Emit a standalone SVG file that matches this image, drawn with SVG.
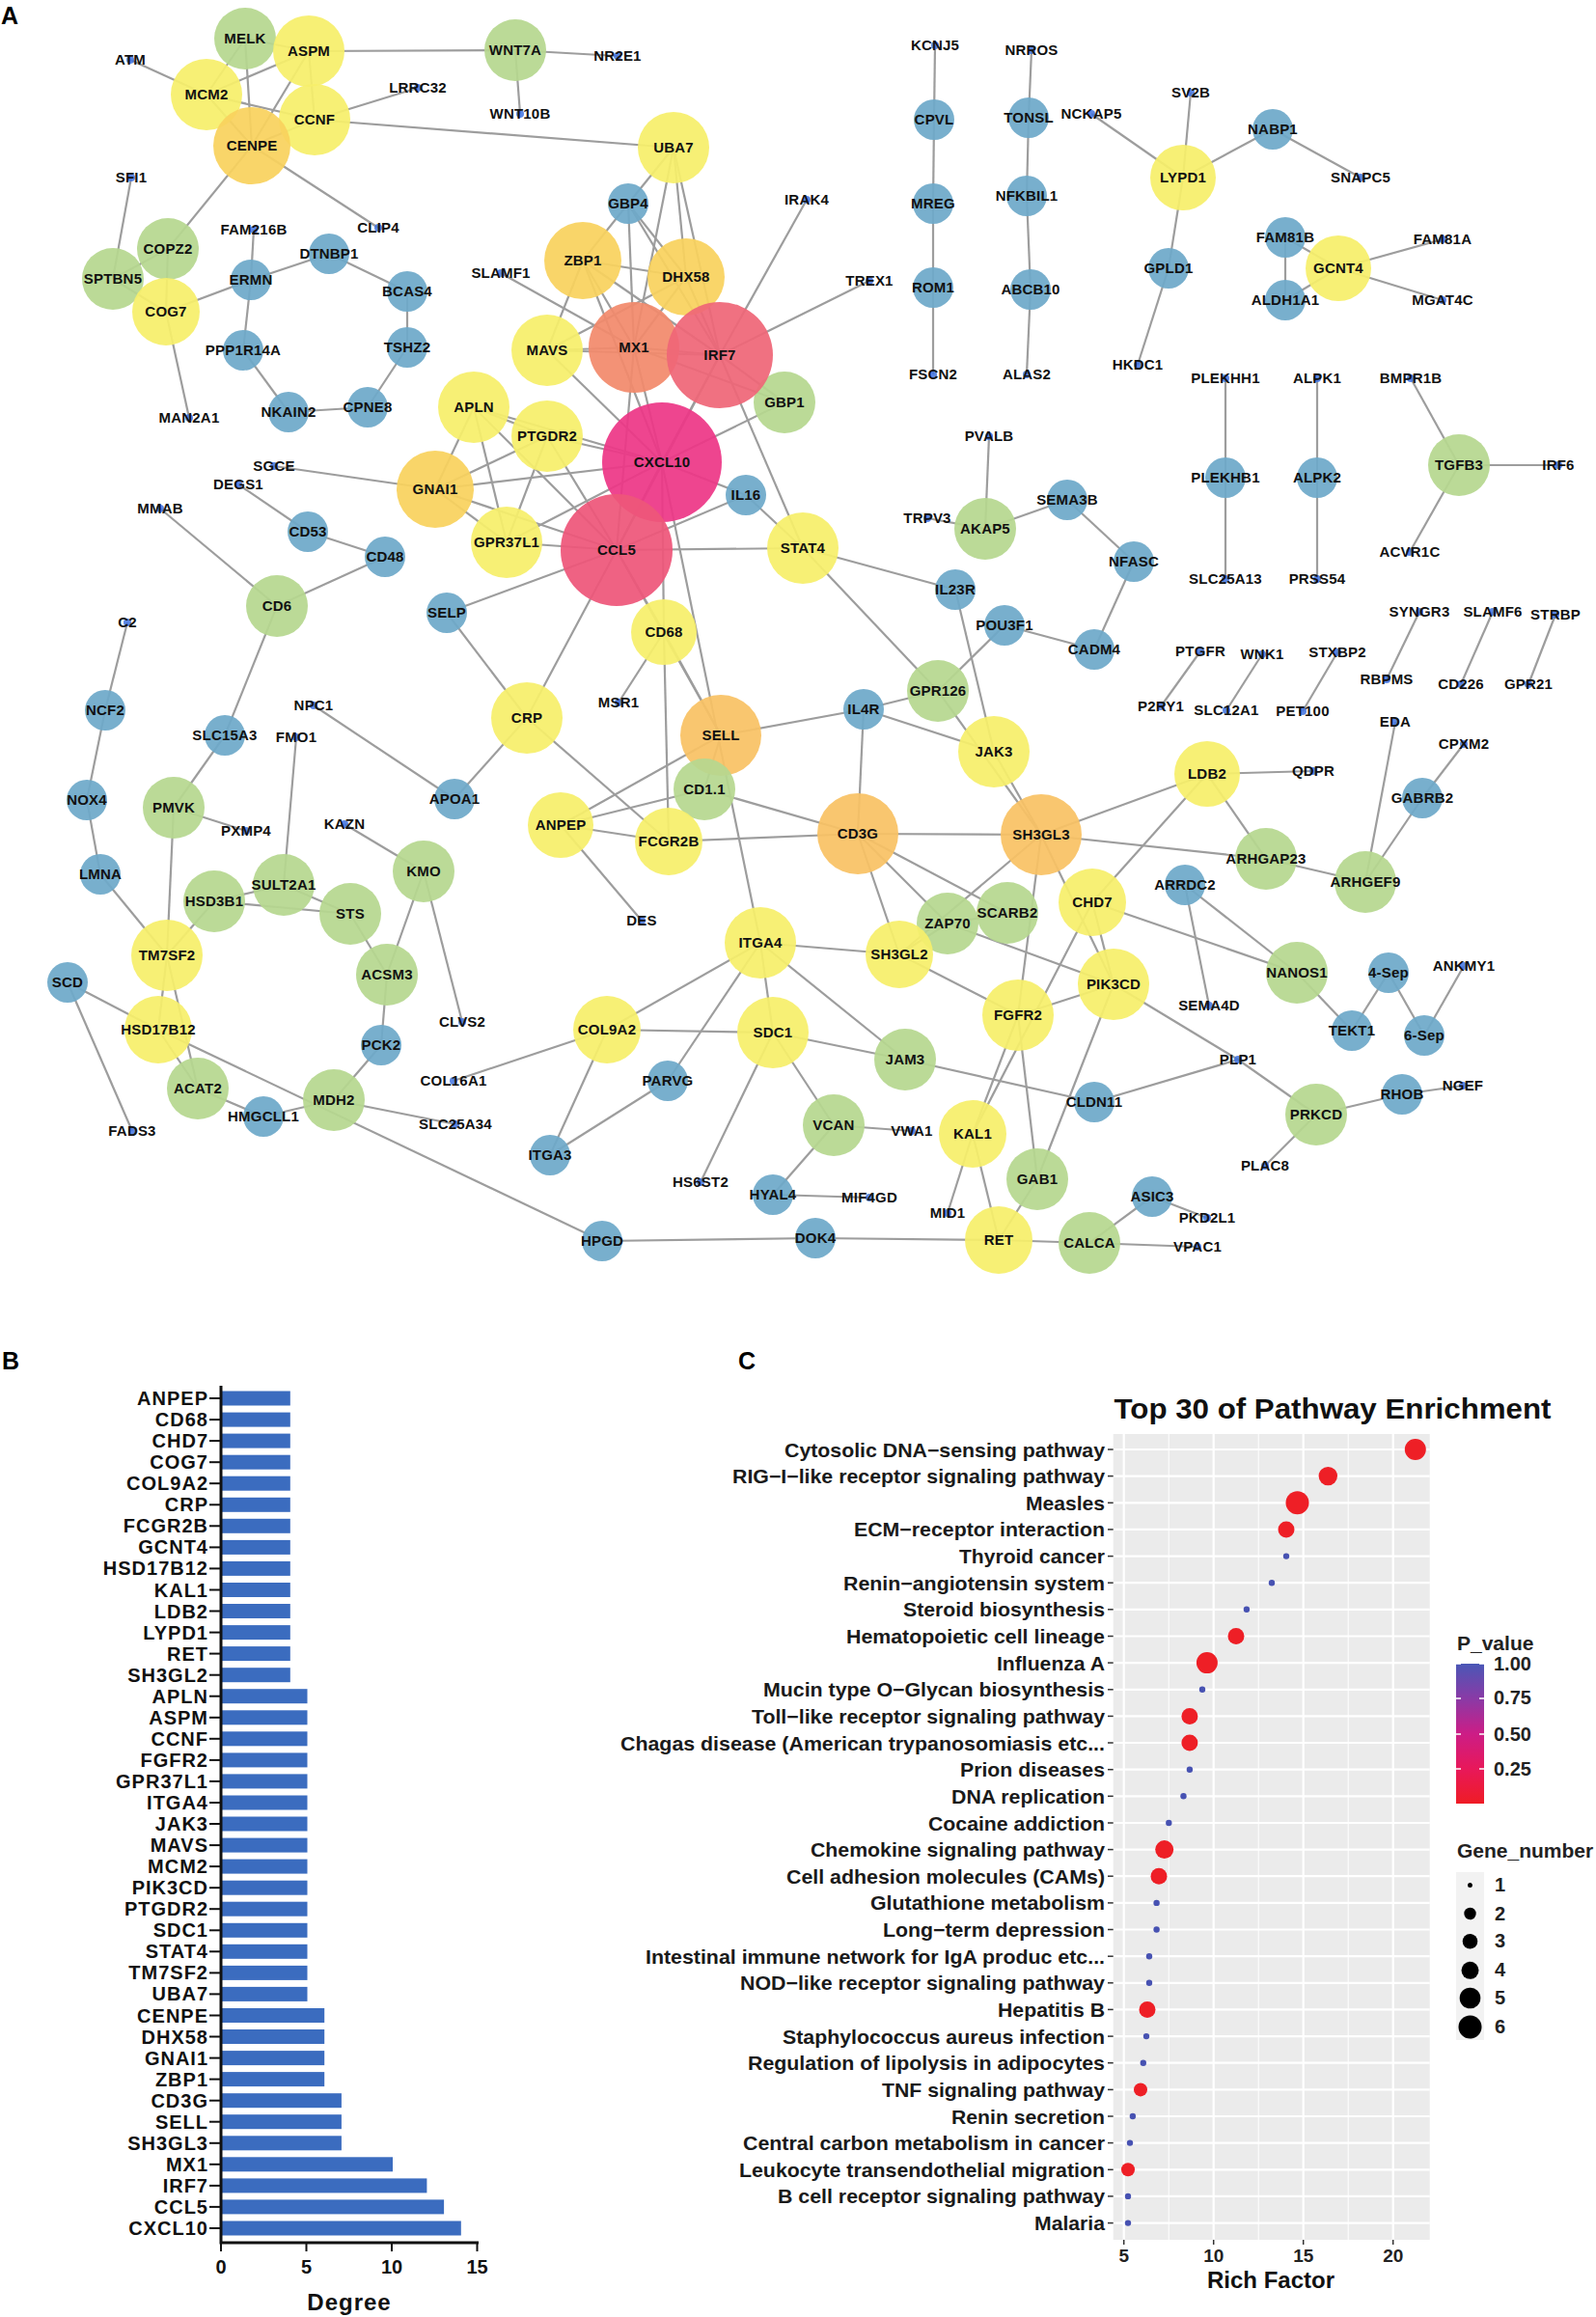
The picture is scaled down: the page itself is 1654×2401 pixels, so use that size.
<svg xmlns="http://www.w3.org/2000/svg" width="1654" height="2401" viewBox="0 0 1654 2401">
<defs>
<style>
.e line{stroke:#9d9d9d;stroke-width:2.2}
.b{fill:#6ea9c9;fill-opacity:.93}
.g{fill:#b6d78f;fill-opacity:.93}
.y{fill:#f6ef6b;fill-opacity:.93}
.gd{fill:#f9d25e;fill-opacity:.93}
.or{fill:#f9c264;fill-opacity:.93}
.d{fill:#3f72e0;fill-opacity:.85}
.t{font-family:"Liberation Sans",Arial,sans-serif;font-weight:bold;font-size:15px;text-anchor:middle;fill:#111;letter-spacing:.2px}
.pl{font-family:"Liberation Sans",Arial,sans-serif;font-weight:bold;font-size:25px;fill:#000}
.bl{font-family:"Liberation Sans",Arial,sans-serif;font-weight:bold;font-size:20px;text-anchor:end;fill:#111;letter-spacing:1px}
.bar rect{fill:#3b6cbf}
.ax{stroke:#111;stroke-width:3;fill:none}
.tk line{stroke:#111;stroke-width:2}
.cl{font-family:"Liberation Sans",Arial,sans-serif;font-weight:bold;font-size:21px;text-anchor:end;fill:#1a1a1a}
.cn{font-family:"Liberation Sans",Arial,sans-serif;font-weight:bold;font-size:20px;fill:#222}
.ct{font-family:"Liberation Sans",Arial,sans-serif;font-weight:bold;font-size:21px;fill:#222}
.red{fill:#ee1f26}
.blu{fill:#4752b2}
</style>
<linearGradient id="pg" x1="0" y1="0" x2="0" y2="1">
<stop offset="0" stop-color="#4a57b6"/>
<stop offset="0.25" stop-color="#8a3aa6"/>
<stop offset="0.5" stop-color="#cc1d86"/>
<stop offset="0.75" stop-color="#e8185a"/>
<stop offset="1" stop-color="#ef1c25"/>
</linearGradient>
</defs>
<rect width="1654" height="2401" fill="#fff"/>
<text class="pl" x="1" y="25">A</text>
<text class="pl" x="2" y="1419">B</text>
<text class="pl" x="765" y="1419">C</text>

<g id="edges" class="e">
<line x1="135" y1="62" x2="214" y2="98"/>
<line x1="254" y1="40" x2="214" y2="98"/>
<line x1="254" y1="40" x2="261" y2="151"/>
<line x1="254" y1="40" x2="320" y2="53"/>
<line x1="320" y1="53" x2="214" y2="98"/>
<line x1="320" y1="53" x2="261" y2="151"/>
<line x1="320" y1="53" x2="326" y2="124"/>
<line x1="320" y1="53" x2="534" y2="52"/>
<line x1="214" y1="98" x2="261" y2="151"/>
<line x1="214" y1="98" x2="326" y2="124"/>
<line x1="261" y1="151" x2="326" y2="124"/>
<line x1="261" y1="151" x2="174" y2="258"/>
<line x1="261" y1="151" x2="392" y2="236"/>
<line x1="326" y1="124" x2="433" y2="91"/>
<line x1="326" y1="124" x2="698" y2="153"/>
<line x1="534" y1="52" x2="539" y2="118"/>
<line x1="534" y1="52" x2="640" y2="58"/>
<line x1="136" y1="184" x2="117" y2="289"/>
<line x1="117" y1="289" x2="174" y2="258"/>
<line x1="117" y1="289" x2="172" y2="323"/>
<line x1="174" y1="258" x2="172" y2="323"/>
<line x1="172" y1="323" x2="260" y2="290"/>
<line x1="172" y1="323" x2="196" y2="433"/>
<line x1="260" y1="290" x2="263" y2="238"/>
<line x1="260" y1="290" x2="341" y2="263"/>
<line x1="260" y1="290" x2="252" y2="363"/>
<line x1="341" y1="263" x2="422" y2="302"/>
<line x1="422" y1="302" x2="422" y2="360"/>
<line x1="422" y1="360" x2="381" y2="422"/>
<line x1="381" y1="422" x2="299" y2="427"/>
<line x1="299" y1="427" x2="252" y2="363"/>
<line x1="519" y1="283" x2="657" y2="360"/>
<line x1="698" y1="153" x2="651" y2="211"/>
<line x1="698" y1="153" x2="711" y2="287"/>
<line x1="698" y1="153" x2="746" y2="368"/>
<line x1="698" y1="153" x2="657" y2="360"/>
<line x1="651" y1="211" x2="604" y2="270"/>
<line x1="651" y1="211" x2="657" y2="360"/>
<line x1="651" y1="211" x2="711" y2="287"/>
<line x1="651" y1="211" x2="746" y2="368"/>
<line x1="604" y1="270" x2="711" y2="287"/>
<line x1="604" y1="270" x2="567" y2="363"/>
<line x1="604" y1="270" x2="657" y2="360"/>
<line x1="604" y1="270" x2="746" y2="368"/>
<line x1="604" y1="270" x2="686" y2="479"/>
<line x1="711" y1="287" x2="657" y2="360"/>
<line x1="711" y1="287" x2="746" y2="368"/>
<line x1="711" y1="287" x2="567" y2="363"/>
<line x1="836" y1="207" x2="746" y2="368"/>
<line x1="901" y1="291" x2="746" y2="368"/>
<line x1="567" y1="363" x2="657" y2="360"/>
<line x1="567" y1="363" x2="686" y2="479"/>
<line x1="567" y1="363" x2="746" y2="368"/>
<line x1="657" y1="360" x2="746" y2="368"/>
<line x1="657" y1="360" x2="686" y2="479"/>
<line x1="657" y1="360" x2="639" y2="570"/>
<line x1="657" y1="360" x2="813" y2="417"/>
<line x1="746" y1="368" x2="813" y2="417"/>
<line x1="746" y1="368" x2="686" y2="479"/>
<line x1="746" y1="368" x2="639" y2="570"/>
<line x1="746" y1="368" x2="832" y2="568"/>
<line x1="686" y1="479" x2="813" y2="417"/>
<line x1="686" y1="479" x2="639" y2="570"/>
<line x1="686" y1="479" x2="773" y2="513"/>
<line x1="686" y1="479" x2="788" y2="977"/>
<line x1="686" y1="479" x2="688" y2="655"/>
<line x1="686" y1="479" x2="491" y2="422"/>
<line x1="686" y1="479" x2="567" y2="452"/>
<line x1="686" y1="479" x2="451" y2="507"/>
<line x1="686" y1="479" x2="525" y2="562"/>
<line x1="639" y1="570" x2="491" y2="422"/>
<line x1="639" y1="570" x2="567" y2="452"/>
<line x1="639" y1="570" x2="451" y2="507"/>
<line x1="639" y1="570" x2="525" y2="562"/>
<line x1="639" y1="570" x2="463" y2="635"/>
<line x1="639" y1="570" x2="546" y2="744"/>
<line x1="639" y1="570" x2="832" y2="568"/>
<line x1="639" y1="570" x2="773" y2="513"/>
<line x1="639" y1="570" x2="688" y2="655"/>
<line x1="639" y1="570" x2="747" y2="762"/>
<line x1="491" y1="422" x2="451" y2="507"/>
<line x1="491" y1="422" x2="567" y2="452"/>
<line x1="491" y1="422" x2="525" y2="562"/>
<line x1="567" y1="452" x2="451" y2="507"/>
<line x1="567" y1="452" x2="525" y2="562"/>
<line x1="451" y1="507" x2="525" y2="562"/>
<line x1="451" y1="507" x2="284" y2="483"/>
<line x1="773" y1="513" x2="832" y2="568"/>
<line x1="832" y1="568" x2="990" y2="611"/>
<line x1="832" y1="568" x2="972" y2="716"/>
<line x1="688" y1="655" x2="641" y2="728"/>
<line x1="688" y1="655" x2="747" y2="762"/>
<line x1="688" y1="655" x2="693" y2="872"/>
<line x1="463" y1="635" x2="546" y2="744"/>
<line x1="546" y1="744" x2="471" y2="828"/>
<line x1="546" y1="744" x2="693" y2="872"/>
<line x1="747" y1="762" x2="730" y2="818"/>
<line x1="747" y1="762" x2="895" y2="735"/>
<line x1="747" y1="762" x2="581" y2="855"/>
<line x1="730" y1="818" x2="581" y2="855"/>
<line x1="730" y1="818" x2="889" y2="864"/>
<line x1="581" y1="855" x2="693" y2="872"/>
<line x1="581" y1="855" x2="665" y2="954"/>
<line x1="693" y1="872" x2="889" y2="864"/>
<line x1="895" y1="735" x2="972" y2="716"/>
<line x1="895" y1="735" x2="1030" y2="779"/>
<line x1="895" y1="735" x2="889" y2="864"/>
<line x1="990" y1="611" x2="1030" y2="779"/>
<line x1="1041" y1="648" x2="972" y2="716"/>
<line x1="1041" y1="648" x2="1134" y2="673"/>
<line x1="972" y1="716" x2="1079" y2="865"/>
<line x1="1030" y1="779" x2="1079" y2="865"/>
<line x1="889" y1="864" x2="1079" y2="865"/>
<line x1="889" y1="864" x2="982" y2="957"/>
<line x1="889" y1="864" x2="932" y2="989"/>
<line x1="889" y1="864" x2="1044" y2="946"/>
<line x1="1079" y1="865" x2="1251" y2="802"/>
<line x1="1079" y1="865" x2="1312" y2="890"/>
<line x1="1079" y1="865" x2="1055" y2="1052"/>
<line x1="1079" y1="865" x2="1154" y2="1020"/>
<line x1="1079" y1="865" x2="932" y2="989"/>
<line x1="982" y1="957" x2="1044" y2="946"/>
<line x1="982" y1="957" x2="932" y2="989"/>
<line x1="982" y1="957" x2="1154" y2="1020"/>
<line x1="1251" y1="802" x2="1361" y2="799"/>
<line x1="1251" y1="802" x2="1312" y2="890"/>
<line x1="1251" y1="802" x2="1132" y2="935"/>
<line x1="1312" y1="890" x2="1415" y2="914"/>
<line x1="1415" y1="914" x2="1446" y2="748"/>
<line x1="1415" y1="914" x2="1474" y2="827"/>
<line x1="1474" y1="827" x2="1517" y2="771"/>
<line x1="1132" y1="935" x2="1344" y2="1008"/>
<line x1="1132" y1="935" x2="1154" y2="1020"/>
<line x1="1132" y1="935" x2="1008" y2="1175"/>
<line x1="1228" y1="917" x2="1344" y2="1008"/>
<line x1="1228" y1="917" x2="1253" y2="1042"/>
<line x1="1154" y1="1020" x2="1283" y2="1098"/>
<line x1="1154" y1="1020" x2="1055" y2="1052"/>
<line x1="1154" y1="1020" x2="1075" y2="1222"/>
<line x1="1283" y1="1098" x2="1134" y2="1142"/>
<line x1="1283" y1="1098" x2="1364" y2="1155"/>
<line x1="1364" y1="1155" x2="1453" y2="1134"/>
<line x1="1453" y1="1134" x2="1516" y2="1125"/>
<line x1="1364" y1="1155" x2="1311" y2="1208"/>
<line x1="1344" y1="1008" x2="1401" y2="1068"/>
<line x1="1401" y1="1068" x2="1439" y2="1008"/>
<line x1="1439" y1="1008" x2="1476" y2="1073"/>
<line x1="1476" y1="1073" x2="1517" y2="1001"/>
<line x1="1134" y1="1142" x2="938" y2="1098"/>
<line x1="1055" y1="1052" x2="932" y2="989"/>
<line x1="1055" y1="1052" x2="1008" y2="1175"/>
<line x1="1055" y1="1052" x2="1075" y2="1222"/>
<line x1="1008" y1="1175" x2="1035" y2="1285"/>
<line x1="1008" y1="1175" x2="982" y2="1257"/>
<line x1="1075" y1="1222" x2="1035" y2="1285"/>
<line x1="1035" y1="1285" x2="1129" y2="1288"/>
<line x1="1035" y1="1285" x2="845" y2="1283"/>
<line x1="1129" y1="1288" x2="1194" y2="1240"/>
<line x1="1129" y1="1288" x2="1241" y2="1292"/>
<line x1="1194" y1="1240" x2="1251" y2="1262"/>
<line x1="287" y1="628" x2="166" y2="527"/>
<line x1="287" y1="628" x2="399" y2="577"/>
<line x1="319" y1="551" x2="399" y2="577"/>
<line x1="319" y1="551" x2="247" y2="502"/>
<line x1="287" y1="628" x2="233" y2="762"/>
<line x1="233" y1="762" x2="180" y2="837"/>
<line x1="180" y1="837" x2="255" y2="861"/>
<line x1="180" y1="837" x2="173" y2="990"/>
<line x1="132" y1="645" x2="109" y2="736"/>
<line x1="109" y1="736" x2="90" y2="829"/>
<line x1="90" y1="829" x2="104" y2="906"/>
<line x1="104" y1="906" x2="173" y2="990"/>
<line x1="325" y1="731" x2="471" y2="828"/>
<line x1="307" y1="764" x2="294" y2="917"/>
<line x1="357" y1="854" x2="439" y2="903"/>
<line x1="294" y1="917" x2="222" y2="934"/>
<line x1="294" y1="917" x2="363" y2="947"/>
<line x1="222" y1="934" x2="363" y2="947"/>
<line x1="222" y1="934" x2="173" y2="990"/>
<line x1="363" y1="947" x2="401" y2="1010"/>
<line x1="439" y1="903" x2="401" y2="1010"/>
<line x1="439" y1="903" x2="479" y2="1059"/>
<line x1="401" y1="1010" x2="395" y2="1083"/>
<line x1="395" y1="1083" x2="346" y2="1140"/>
<line x1="346" y1="1140" x2="273" y2="1157"/>
<line x1="346" y1="1140" x2="472" y2="1165"/>
<line x1="273" y1="1157" x2="205" y2="1128"/>
<line x1="205" y1="1128" x2="164" y2="1067"/>
<line x1="205" y1="1128" x2="173" y2="990"/>
<line x1="173" y1="990" x2="164" y2="1067"/>
<line x1="70" y1="1018" x2="164" y2="1067"/>
<line x1="70" y1="1018" x2="137" y2="1172"/>
<line x1="164" y1="1067" x2="624" y2="1286"/>
<line x1="470" y1="1120" x2="629" y2="1067"/>
<line x1="629" y1="1067" x2="570" y2="1197"/>
<line x1="629" y1="1067" x2="788" y2="977"/>
<line x1="629" y1="1067" x2="801" y2="1070"/>
<line x1="788" y1="977" x2="801" y2="1070"/>
<line x1="788" y1="977" x2="938" y2="1098"/>
<line x1="788" y1="977" x2="692" y2="1120"/>
<line x1="788" y1="977" x2="932" y2="989"/>
<line x1="692" y1="1120" x2="570" y2="1197"/>
<line x1="801" y1="1070" x2="938" y2="1098"/>
<line x1="801" y1="1070" x2="864" y2="1166"/>
<line x1="801" y1="1070" x2="726" y2="1225"/>
<line x1="864" y1="1166" x2="945" y2="1172"/>
<line x1="864" y1="1166" x2="801" y2="1238"/>
<line x1="801" y1="1238" x2="901" y2="1241"/>
<line x1="624" y1="1286" x2="845" y2="1283"/>
<line x1="969" y1="47" x2="968" y2="124"/>
<line x1="968" y1="124" x2="967" y2="211"/>
<line x1="967" y1="211" x2="967" y2="298"/>
<line x1="967" y1="298" x2="967" y2="388"/>
<line x1="1069" y1="52" x2="1066" y2="122"/>
<line x1="1066" y1="122" x2="1064" y2="203"/>
<line x1="1064" y1="203" x2="1068" y2="300"/>
<line x1="1068" y1="300" x2="1064" y2="388"/>
<line x1="1131" y1="118" x2="1226" y2="184"/>
<line x1="1234" y1="96" x2="1226" y2="184"/>
<line x1="1226" y1="184" x2="1319" y2="134"/>
<line x1="1319" y1="134" x2="1410" y2="184"/>
<line x1="1226" y1="184" x2="1211" y2="278"/>
<line x1="1211" y1="278" x2="1179" y2="378"/>
<line x1="1332" y1="246" x2="1332" y2="311"/>
<line x1="1332" y1="246" x2="1387" y2="278"/>
<line x1="1332" y1="311" x2="1387" y2="278"/>
<line x1="1387" y1="278" x2="1495" y2="248"/>
<line x1="1387" y1="278" x2="1495" y2="311"/>
<line x1="1270" y1="392" x2="1270" y2="495"/>
<line x1="1270" y1="495" x2="1270" y2="600"/>
<line x1="1365" y1="392" x2="1365" y2="495"/>
<line x1="1365" y1="495" x2="1365" y2="600"/>
<line x1="1462" y1="392" x2="1512" y2="482"/>
<line x1="1512" y1="482" x2="1615" y2="482"/>
<line x1="1512" y1="482" x2="1461" y2="572"/>
<line x1="1025" y1="452" x2="1021" y2="548"/>
<line x1="961" y1="537" x2="1021" y2="548"/>
<line x1="1021" y1="548" x2="1106" y2="518"/>
<line x1="1106" y1="518" x2="1175" y2="582"/>
<line x1="1175" y1="582" x2="1134" y2="673"/>
<line x1="1244" y1="675" x2="1203" y2="732"/>
<line x1="1308" y1="678" x2="1271" y2="736"/>
<line x1="1386" y1="676" x2="1350" y2="737"/>
<line x1="1471" y1="634" x2="1437" y2="704"/>
<line x1="1547" y1="634" x2="1514" y2="709"/>
<line x1="1612" y1="637" x2="1584" y2="709"/>
</g>

<g id="nodes">
<g id="n-MELK"><circle class="g" cx="254" cy="40" r="32"/><text class="t" x="254" y="45">MELK</text></g>
<g id="n-MCM2"><circle class="y" cx="214" cy="98" r="37"/><text class="t" x="214" y="103">MCM2</text></g>
<g id="n-ASPM"><circle class="y" cx="320" cy="53" r="37"/><text class="t" x="320" y="58">ASPM</text></g>
<g id="n-CCNF"><circle class="y" cx="326" cy="124" r="37"/><text class="t" x="326" y="129">CCNF</text></g>
<g id="n-CENPE"><circle class="gd" cx="261" cy="151" r="40"/><text class="t" x="261" y="156">CENPE</text></g>
<g id="n-ATM"><circle class="d" cx="135" cy="62" r="4"/><text class="t" x="135" y="67">ATM</text></g>
<g id="n-LRRC32"><circle class="d" cx="433" cy="91" r="4"/><text class="t" x="433" y="96">LRRC32</text></g>
<g id="n-WNT7A"><circle class="g" cx="534" cy="52" r="32"/><text class="t" x="534" y="57">WNT7A</text></g>
<g id="n-WNT10B"><circle class="d" cx="539" cy="118" r="4"/><text class="t" x="539" y="123">WNT10B</text></g>
<g id="n-NR2E1"><circle class="d" cx="640" cy="58" r="4"/><text class="t" x="640" y="63">NR2E1</text></g>
<g id="n-SFI1"><circle class="d" cx="136" cy="184" r="4"/><text class="t" x="136" y="189">SFI1</text></g>
<g id="n-COPZ2"><circle class="g" cx="174" cy="258" r="32"/><text class="t" x="174" y="263">COPZ2</text></g>
<g id="n-SPTBN5"><circle class="g" cx="117" cy="289" r="32"/><text class="t" x="117" y="294">SPTBN5</text></g>
<g id="n-COG7"><circle class="y" cx="172" cy="323" r="35"/><text class="t" x="172" y="328">COG7</text></g>
<g id="n-FAM216B"><circle class="d" cx="263" cy="238" r="4"/><text class="t" x="263" y="243">FAM216B</text></g>
<g id="n-CLIP4"><circle class="d" cx="392" cy="236" r="4"/><text class="t" x="392" y="241">CLIP4</text></g>
<g id="n-DTNBP1"><circle class="b" cx="341" cy="263" r="21"/><text class="t" x="341" y="268">DTNBP1</text></g>
<g id="n-ERMN"><circle class="b" cx="260" cy="290" r="21"/><text class="t" x="260" y="295">ERMN</text></g>
<g id="n-BCAS4"><circle class="b" cx="422" cy="302" r="21"/><text class="t" x="422" y="307">BCAS4</text></g>
<g id="n-TSHZ2"><circle class="b" cx="422" cy="360" r="21"/><text class="t" x="422" y="365">TSHZ2</text></g>
<g id="n-PPP1R14A"><circle class="b" cx="252" cy="363" r="21"/><text class="t" x="252" y="368">PPP1R14A</text></g>
<g id="n-NKAIN2"><circle class="b" cx="299" cy="427" r="21"/><text class="t" x="299" y="432">NKAIN2</text></g>
<g id="n-CPNE8"><circle class="b" cx="381" cy="422" r="21"/><text class="t" x="381" y="427">CPNE8</text></g>
<g id="n-MAN2A1"><circle class="d" cx="196" cy="433" r="4"/><text class="t" x="196" y="438">MAN2A1</text></g>
<g id="n-SLAMF1"><circle class="d" cx="519" cy="283" r="4"/><text class="t" x="519" y="288">SLAMF1</text></g>
<g id="n-UBA7"><circle class="y" cx="698" cy="153" r="37"/><text class="t" x="698" y="158">UBA7</text></g>
<g id="n-GBP4"><circle class="b" cx="651" cy="211" r="21"/><text class="t" x="651" y="216">GBP4</text></g>
<g id="n-ZBP1"><circle class="gd" cx="604" cy="270" r="40"/><text class="t" x="604" y="275">ZBP1</text></g>
<g id="n-DHX58"><circle class="gd" cx="711" cy="287" r="40"/><text class="t" x="711" y="292">DHX58</text></g>
<g id="n-IRAK4"><circle class="d" cx="836" cy="207" r="4"/><text class="t" x="836" y="212">IRAK4</text></g>
<g id="n-TREX1"><circle class="d" cx="901" cy="291" r="4"/><text class="t" x="901" y="296">TREX1</text></g>
<g id="n-MAVS"><circle class="y" cx="567" cy="363" r="37"/><text class="t" x="567" y="368">MAVS</text></g>
<g id="n-GBP1"><circle class="g" cx="813" cy="417" r="32"/><text class="t" x="813" y="422">GBP1</text></g>
<g id="n-MX1"><circle fill="#f28a6c" fill-opacity=".93" cx="657" cy="360" r="47"/><text class="t" x="657" y="365">MX1</text></g>
<g id="n-IRF7"><circle fill="#ef6677" fill-opacity=".93" cx="746" cy="368" r="55"/><text class="t" x="746" y="373">IRF7</text></g>
<g id="n-APLN"><circle class="y" cx="491" cy="422" r="37"/><text class="t" x="491" y="427">APLN</text></g>
<g id="n-PTGDR2"><circle class="y" cx="567" cy="452" r="37"/><text class="t" x="567" y="457">PTGDR2</text></g>
<g id="n-GNAI1"><circle class="gd" cx="451" cy="507" r="40"/><text class="t" x="451" y="512">GNAI1</text></g>
<g id="n-GPR37L1"><circle class="y" cx="525" cy="562" r="37"/><text class="t" x="525" y="567">GPR37L1</text></g>
<g id="n-CXCL10"><circle fill="#ed3787" fill-opacity=".93" cx="686" cy="479" r="62"/><text class="t" x="686" y="484">CXCL10</text></g>
<g id="n-CCL5"><circle fill="#ee567a" fill-opacity=".93" cx="639" cy="570" r="58"/><text class="t" x="639" y="575">CCL5</text></g>
<g id="n-IL16"><circle class="b" cx="773" cy="513" r="21"/><text class="t" x="773" y="518">IL16</text></g>
<g id="n-STAT4"><circle class="y" cx="832" cy="568" r="37"/><text class="t" x="832" y="573">STAT4</text></g>
<g id="n-CD68"><circle class="y" cx="688" cy="655" r="34"/><text class="t" x="688" y="660">CD68</text></g>
<g id="n-MSR1"><circle class="d" cx="641" cy="728" r="4"/><text class="t" x="641" y="733">MSR1</text></g>
<g id="n-SELP"><circle class="b" cx="463" cy="635" r="21"/><text class="t" x="463" y="640">SELP</text></g>
<g id="n-CRP"><circle class="y" cx="546" cy="744" r="37"/><text class="t" x="546" y="749">CRP</text></g>
<g id="n-SELL"><circle class="or" cx="747" cy="762" r="42"/><text class="t" x="747" y="767">SELL</text></g>
<g id="n-CD1.1"><circle class="g" cx="730" cy="818" r="32"/><text class="t" x="730" y="823">CD1.1</text></g>
<g id="n-ANPEP"><circle class="y" cx="581" cy="855" r="34"/><text class="t" x="581" y="860">ANPEP</text></g>
<g id="n-FCGR2B"><circle class="y" cx="693" cy="872" r="35"/><text class="t" x="693" y="877">FCGR2B</text></g>
<g id="n-IL4R"><circle class="b" cx="895" cy="735" r="21"/><text class="t" x="895" y="740">IL4R</text></g>
<g id="n-GPR126"><circle class="g" cx="972" cy="716" r="32"/><text class="t" x="972" y="721">GPR126</text></g>
<g id="n-IL23R"><circle class="b" cx="990" cy="611" r="21"/><text class="t" x="990" y="616">IL23R</text></g>
<g id="n-POU3F1"><circle class="b" cx="1041" cy="648" r="21"/><text class="t" x="1041" y="653">POU3F1</text></g>
<g id="n-JAK3"><circle class="y" cx="1030" cy="779" r="37"/><text class="t" x="1030" y="784">JAK3</text></g>
<g id="n-CD3G"><circle class="or" cx="889" cy="864" r="42"/><text class="t" x="889" y="869">CD3G</text></g>
<g id="n-SH3GL3"><circle class="or" cx="1079" cy="865" r="42"/><text class="t" x="1079" y="870">SH3GL3</text></g>
<g id="n-DES"><circle class="d" cx="665" cy="954" r="4"/><text class="t" x="665" y="959">DES</text></g>
<g id="n-KCNJ5"><circle class="d" cx="969" cy="47" r="4"/><text class="t" x="969" y="52">KCNJ5</text></g>
<g id="n-CPVL"><circle class="b" cx="968" cy="124" r="21"/><text class="t" x="968" y="129">CPVL</text></g>
<g id="n-MREG"><circle class="b" cx="967" cy="211" r="21"/><text class="t" x="967" y="216">MREG</text></g>
<g id="n-ROM1"><circle class="b" cx="967" cy="298" r="21"/><text class="t" x="967" y="303">ROM1</text></g>
<g id="n-FSCN2"><circle class="d" cx="967" cy="388" r="4"/><text class="t" x="967" y="393">FSCN2</text></g>
<g id="n-NRROS"><circle class="d" cx="1069" cy="52" r="4"/><text class="t" x="1069" y="57">NRROS</text></g>
<g id="n-TONSL"><circle class="b" cx="1066" cy="122" r="21"/><text class="t" x="1066" y="127">TONSL</text></g>
<g id="n-NFKBIL1"><circle class="b" cx="1064" cy="203" r="21"/><text class="t" x="1064" y="208">NFKBIL1</text></g>
<g id="n-ABCB10"><circle class="b" cx="1068" cy="300" r="21"/><text class="t" x="1068" y="305">ABCB10</text></g>
<g id="n-ALAS2"><circle class="d" cx="1064" cy="388" r="4"/><text class="t" x="1064" y="393">ALAS2</text></g>
<g id="n-SV2B"><circle class="d" cx="1234" cy="96" r="4"/><text class="t" x="1234" y="101">SV2B</text></g>
<g id="n-NCKAP5"><circle class="d" cx="1131" cy="118" r="4"/><text class="t" x="1131" y="123">NCKAP5</text></g>
<g id="n-NABP1"><circle class="b" cx="1319" cy="134" r="21"/><text class="t" x="1319" y="139">NABP1</text></g>
<g id="n-LYPD1"><circle class="y" cx="1226" cy="184" r="34"/><text class="t" x="1226" y="189">LYPD1</text></g>
<g id="n-SNAPC5"><circle class="d" cx="1410" cy="184" r="4"/><text class="t" x="1410" y="189">SNAPC5</text></g>
<g id="n-FAM81B"><circle class="b" cx="1332" cy="246" r="21"/><text class="t" x="1332" y="251">FAM81B</text></g>
<g id="n-ALDH1A1"><circle class="b" cx="1332" cy="311" r="21"/><text class="t" x="1332" y="316">ALDH1A1</text></g>
<g id="n-GCNT4"><circle class="y" cx="1387" cy="278" r="34"/><text class="t" x="1387" y="283">GCNT4</text></g>
<g id="n-FAM81A"><circle class="d" cx="1495" cy="248" r="4"/><text class="t" x="1495" y="253">FAM81A</text></g>
<g id="n-MGAT4C"><circle class="d" cx="1495" cy="311" r="4"/><text class="t" x="1495" y="316">MGAT4C</text></g>
<g id="n-GPLD1"><circle class="b" cx="1211" cy="278" r="21"/><text class="t" x="1211" y="283">GPLD1</text></g>
<g id="n-HKDC1"><circle class="d" cx="1179" cy="378" r="4"/><text class="t" x="1179" y="383">HKDC1</text></g>
<g id="n-PLEKHH1"><circle class="d" cx="1270" cy="392" r="4"/><text class="t" x="1270" y="397">PLEKHH1</text></g>
<g id="n-ALPK1"><circle class="d" cx="1365" cy="392" r="4"/><text class="t" x="1365" y="397">ALPK1</text></g>
<g id="n-BMPR1B"><circle class="d" cx="1462" cy="392" r="4"/><text class="t" x="1462" y="397">BMPR1B</text></g>
<g id="n-PLEKHB1"><circle class="b" cx="1270" cy="495" r="21"/><text class="t" x="1270" y="500">PLEKHB1</text></g>
<g id="n-ALPK2"><circle class="b" cx="1365" cy="495" r="21"/><text class="t" x="1365" y="500">ALPK2</text></g>
<g id="n-TGFB3"><circle class="g" cx="1512" cy="482" r="32"/><text class="t" x="1512" y="487">TGFB3</text></g>
<g id="n-IRF6"><circle class="d" cx="1615" cy="482" r="4"/><text class="t" x="1615" y="487">IRF6</text></g>
<g id="n-ACVR1C"><circle class="d" cx="1461" cy="572" r="4"/><text class="t" x="1461" y="577">ACVR1C</text></g>
<g id="n-SLC25A13"><circle class="d" cx="1270" cy="600" r="4"/><text class="t" x="1270" y="605">SLC25A13</text></g>
<g id="n-PRSS54"><circle class="d" cx="1365" cy="600" r="4"/><text class="t" x="1365" y="605">PRSS54</text></g>
<g id="n-PVALB"><circle class="d" cx="1025" cy="452" r="4"/><text class="t" x="1025" y="457">PVALB</text></g>
<g id="n-TRPV3"><circle class="d" cx="961" cy="537" r="4"/><text class="t" x="961" y="542">TRPV3</text></g>
<g id="n-AKAP5"><circle class="g" cx="1021" cy="548" r="32"/><text class="t" x="1021" y="553">AKAP5</text></g>
<g id="n-SEMA3B"><circle class="b" cx="1106" cy="518" r="21"/><text class="t" x="1106" y="523">SEMA3B</text></g>
<g id="n-NFASC"><circle class="b" cx="1175" cy="582" r="21"/><text class="t" x="1175" y="587">NFASC</text></g>
<g id="n-CADM4"><circle class="b" cx="1134" cy="673" r="21"/><text class="t" x="1134" y="678">CADM4</text></g>
<g id="n-SYNGR3"><circle class="d" cx="1471" cy="634" r="4"/><text class="t" x="1471" y="639">SYNGR3</text></g>
<g id="n-SLAMF6"><circle class="d" cx="1547" cy="634" r="4"/><text class="t" x="1547" y="639">SLAMF6</text></g>
<g id="n-STRBP"><circle class="d" cx="1612" cy="637" r="4"/><text class="t" x="1612" y="642">STRBP</text></g>
<g id="n-PTGFR"><circle class="d" cx="1244" cy="675" r="4"/><text class="t" x="1244" y="680">PTGFR</text></g>
<g id="n-WNK1"><circle class="d" cx="1308" cy="678" r="4"/><text class="t" x="1308" y="683">WNK1</text></g>
<g id="n-STXBP2"><circle class="d" cx="1386" cy="676" r="4"/><text class="t" x="1386" y="681">STXBP2</text></g>
<g id="n-RBPMS"><circle class="d" cx="1437" cy="704" r="4"/><text class="t" x="1437" y="709">RBPMS</text></g>
<g id="n-CD226"><circle class="d" cx="1514" cy="709" r="4"/><text class="t" x="1514" y="714">CD226</text></g>
<g id="n-GPR21"><circle class="d" cx="1584" cy="709" r="4"/><text class="t" x="1584" y="714">GPR21</text></g>
<g id="n-P2RY1"><circle class="d" cx="1203" cy="732" r="4"/><text class="t" x="1203" y="737">P2RY1</text></g>
<g id="n-SLC12A1"><circle class="d" cx="1271" cy="736" r="4"/><text class="t" x="1271" y="741">SLC12A1</text></g>
<g id="n-PET100"><circle class="d" cx="1350" cy="737" r="4"/><text class="t" x="1350" y="742">PET100</text></g>
<g id="n-EDA"><circle class="d" cx="1446" cy="748" r="4"/><text class="t" x="1446" y="753">EDA</text></g>
<g id="n-CPXM2"><circle class="d" cx="1517" cy="771" r="4"/><text class="t" x="1517" y="776">CPXM2</text></g>
<g id="n-LDB2"><circle class="y" cx="1251" cy="802" r="34"/><text class="t" x="1251" y="807">LDB2</text></g>
<g id="n-QDPR"><circle class="d" cx="1361" cy="799" r="4"/><text class="t" x="1361" y="804">QDPR</text></g>
<g id="n-GABRB2"><circle class="b" cx="1474" cy="827" r="21"/><text class="t" x="1474" y="832">GABRB2</text></g>
<g id="n-SGCE"><circle class="d" cx="284" cy="483" r="4"/><text class="t" x="284" y="488">SGCE</text></g>
<g id="n-DEGS1"><circle class="d" cx="247" cy="502" r="4"/><text class="t" x="247" y="507">DEGS1</text></g>
<g id="n-MMAB"><circle class="d" cx="166" cy="527" r="4"/><text class="t" x="166" y="532">MMAB</text></g>
<g id="n-CD53"><circle class="b" cx="319" cy="551" r="21"/><text class="t" x="319" y="556">CD53</text></g>
<g id="n-CD48"><circle class="b" cx="399" cy="577" r="21"/><text class="t" x="399" y="582">CD48</text></g>
<g id="n-CD6"><circle class="g" cx="287" cy="628" r="32"/><text class="t" x="287" y="633">CD6</text></g>
<g id="n-C2"><circle class="d" cx="132" cy="645" r="4"/><text class="t" x="132" y="650">C2</text></g>
<g id="n-NCF2"><circle class="b" cx="109" cy="736" r="21"/><text class="t" x="109" y="741">NCF2</text></g>
<g id="n-NPC1"><circle class="d" cx="325" cy="731" r="4"/><text class="t" x="325" y="736">NPC1</text></g>
<g id="n-SLC15A3"><circle class="b" cx="233" cy="762" r="21"/><text class="t" x="233" y="767">SLC15A3</text></g>
<g id="n-FMO1"><circle class="d" cx="307" cy="764" r="4"/><text class="t" x="307" y="769">FMO1</text></g>
<g id="n-NOX4"><circle class="b" cx="90" cy="829" r="21"/><text class="t" x="90" y="834">NOX4</text></g>
<g id="n-PMVK"><circle class="g" cx="180" cy="837" r="32"/><text class="t" x="180" y="842">PMVK</text></g>
<g id="n-APOA1"><circle class="b" cx="471" cy="828" r="21"/><text class="t" x="471" y="833">APOA1</text></g>
<g id="n-PXMP4"><circle class="d" cx="255" cy="861" r="4"/><text class="t" x="255" y="866">PXMP4</text></g>
<g id="n-KAZN"><circle class="d" cx="357" cy="854" r="4"/><text class="t" x="357" y="859">KAZN</text></g>
<g id="n-LMNA"><circle class="b" cx="104" cy="906" r="21"/><text class="t" x="104" y="911">LMNA</text></g>
<g id="n-SULT2A1"><circle class="g" cx="294" cy="917" r="32"/><text class="t" x="294" y="922">SULT2A1</text></g>
<g id="n-HSD3B1"><circle class="g" cx="222" cy="934" r="32"/><text class="t" x="222" y="939">HSD3B1</text></g>
<g id="n-STS"><circle class="g" cx="363" cy="947" r="32"/><text class="t" x="363" y="952">STS</text></g>
<g id="n-KMO"><circle class="g" cx="439" cy="903" r="32"/><text class="t" x="439" y="908">KMO</text></g>
<g id="n-TM7SF2"><circle class="y" cx="173" cy="990" r="37"/><text class="t" x="173" y="995">TM7SF2</text></g>
<g id="n-SCD"><circle class="b" cx="70" cy="1018" r="21"/><text class="t" x="70" y="1023">SCD</text></g>
<g id="n-ACSM3"><circle class="g" cx="401" cy="1010" r="32"/><text class="t" x="401" y="1015">ACSM3</text></g>
<g id="n-HSD17B12"><circle class="y" cx="164" cy="1067" r="35"/><text class="t" x="164" y="1072">HSD17B12</text></g>
<g id="n-CLVS2"><circle class="d" cx="479" cy="1059" r="4"/><text class="t" x="479" y="1064">CLVS2</text></g>
<g id="n-PCK2"><circle class="b" cx="395" cy="1083" r="21"/><text class="t" x="395" y="1088">PCK2</text></g>
<g id="n-ACAT2"><circle class="g" cx="205" cy="1128" r="32"/><text class="t" x="205" y="1133">ACAT2</text></g>
<g id="n-COL16A1"><circle class="d" cx="470" cy="1120" r="4"/><text class="t" x="470" y="1125">COL16A1</text></g>
<g id="n-HMGCLL1"><circle class="b" cx="273" cy="1157" r="21"/><text class="t" x="273" y="1162">HMGCLL1</text></g>
<g id="n-MDH2"><circle class="g" cx="346" cy="1140" r="32"/><text class="t" x="346" y="1145">MDH2</text></g>
<g id="n-SLC25A34"><circle class="d" cx="472" cy="1165" r="4"/><text class="t" x="472" y="1170">SLC25A34</text></g>
<g id="n-FADS3"><circle class="d" cx="137" cy="1172" r="4"/><text class="t" x="137" y="1177">FADS3</text></g>
<g id="n-ITGA4"><circle class="y" cx="788" cy="977" r="37"/><text class="t" x="788" y="982">ITGA4</text></g>
<g id="n-SCARB2"><circle class="g" cx="1044" cy="946" r="32"/><text class="t" x="1044" y="951">SCARB2</text></g>
<g id="n-ZAP70"><circle class="g" cx="982" cy="957" r="32"/><text class="t" x="982" y="962">ZAP70</text></g>
<g id="n-SH3GL2"><circle class="y" cx="932" cy="989" r="35"/><text class="t" x="932" y="994">SH3GL2</text></g>
<g id="n-COL9A2"><circle class="y" cx="629" cy="1067" r="35"/><text class="t" x="629" y="1072">COL9A2</text></g>
<g id="n-SDC1"><circle class="y" cx="801" cy="1070" r="37"/><text class="t" x="801" y="1075">SDC1</text></g>
<g id="n-JAM3"><circle class="g" cx="938" cy="1098" r="32"/><text class="t" x="938" y="1103">JAM3</text></g>
<g id="n-FGFR2"><circle class="y" cx="1055" cy="1052" r="37"/><text class="t" x="1055" y="1057">FGFR2</text></g>
<g id="n-PARVG"><circle class="b" cx="692" cy="1120" r="21"/><text class="t" x="692" y="1125">PARVG</text></g>
<g id="n-VCAN"><circle class="g" cx="864" cy="1166" r="32"/><text class="t" x="864" y="1171">VCAN</text></g>
<g id="n-VWA1"><circle class="d" cx="945" cy="1172" r="4"/><text class="t" x="945" y="1177">VWA1</text></g>
<g id="n-KAL1"><circle class="y" cx="1008" cy="1175" r="35"/><text class="t" x="1008" y="1180">KAL1</text></g>
<g id="n-ITGA3"><circle class="b" cx="570" cy="1197" r="21"/><text class="t" x="570" y="1202">ITGA3</text></g>
<g id="n-GAB1"><circle class="g" cx="1075" cy="1222" r="32"/><text class="t" x="1075" y="1227">GAB1</text></g>
<g id="n-HS6ST2"><circle class="d" cx="726" cy="1225" r="4"/><text class="t" x="726" y="1230">HS6ST2</text></g>
<g id="n-HYAL4"><circle class="b" cx="801" cy="1238" r="21"/><text class="t" x="801" y="1243">HYAL4</text></g>
<g id="n-MIF4GD"><circle class="d" cx="901" cy="1241" r="4"/><text class="t" x="901" y="1246">MIF4GD</text></g>
<g id="n-MID1"><circle class="d" cx="982" cy="1257" r="4"/><text class="t" x="982" y="1262">MID1</text></g>
<g id="n-HPGD"><circle class="b" cx="624" cy="1286" r="21"/><text class="t" x="624" y="1291">HPGD</text></g>
<g id="n-DOK4"><circle class="b" cx="845" cy="1283" r="21"/><text class="t" x="845" y="1288">DOK4</text></g>
<g id="n-RET"><circle class="y" cx="1035" cy="1285" r="35"/><text class="t" x="1035" y="1290">RET</text></g>
<g id="n-ARHGAP23"><circle class="g" cx="1312" cy="890" r="32"/><text class="t" x="1312" y="895">ARHGAP23</text></g>
<g id="n-ARHGEF9"><circle class="g" cx="1415" cy="914" r="32"/><text class="t" x="1415" y="919">ARHGEF9</text></g>
<g id="n-CHD7"><circle class="y" cx="1132" cy="935" r="35"/><text class="t" x="1132" y="940">CHD7</text></g>
<g id="n-ARRDC2"><circle class="b" cx="1228" cy="917" r="21"/><text class="t" x="1228" y="922">ARRDC2</text></g>
<g id="n-PIK3CD"><circle class="y" cx="1154" cy="1020" r="37"/><text class="t" x="1154" y="1025">PIK3CD</text></g>
<g id="n-NANOS1"><circle class="g" cx="1344" cy="1008" r="32"/><text class="t" x="1344" y="1013">NANOS1</text></g>
<g id="n-SEMA4D"><circle class="d" cx="1253" cy="1042" r="4"/><text class="t" x="1253" y="1047">SEMA4D</text></g>
<g id="n-4-Sep"><circle class="b" cx="1439" cy="1008" r="21"/><text class="t" x="1439" y="1013">4-Sep</text></g>
<g id="n-ANKMY1"><circle class="d" cx="1517" cy="1001" r="4"/><text class="t" x="1517" y="1006">ANKMY1</text></g>
<g id="n-TEKT1"><circle class="b" cx="1401" cy="1068" r="21"/><text class="t" x="1401" y="1073">TEKT1</text></g>
<g id="n-6-Sep"><circle class="b" cx="1476" cy="1073" r="21"/><text class="t" x="1476" y="1078">6-Sep</text></g>
<g id="n-PLP1"><circle class="d" cx="1283" cy="1098" r="4"/><text class="t" x="1283" y="1103">PLP1</text></g>
<g id="n-CLDN11"><circle class="b" cx="1134" cy="1142" r="21"/><text class="t" x="1134" y="1147">CLDN11</text></g>
<g id="n-PRKCD"><circle class="g" cx="1364" cy="1155" r="32"/><text class="t" x="1364" y="1160">PRKCD</text></g>
<g id="n-RHOB"><circle class="b" cx="1453" cy="1134" r="21"/><text class="t" x="1453" y="1139">RHOB</text></g>
<g id="n-NGEF"><circle class="d" cx="1516" cy="1125" r="4"/><text class="t" x="1516" y="1130">NGEF</text></g>
<g id="n-PLAC8"><circle class="d" cx="1311" cy="1208" r="4"/><text class="t" x="1311" y="1213">PLAC8</text></g>
<g id="n-ASIC3"><circle class="b" cx="1194" cy="1240" r="21"/><text class="t" x="1194" y="1245">ASIC3</text></g>
<g id="n-PKD2L1"><circle class="d" cx="1251" cy="1262" r="4"/><text class="t" x="1251" y="1267">PKD2L1</text></g>
<g id="n-CALCA"><circle class="g" cx="1129" cy="1288" r="32"/><text class="t" x="1129" y="1293">CALCA</text></g>
<g id="n-VPAC1"><circle class="d" cx="1241" cy="1292" r="4"/><text class="t" x="1241" y="1297">VPAC1</text></g>
</g>

<g id="panelB">
<g class="bar">
<rect x="230" y="1441.5" width="70.8" height="15"/>
<rect x="230" y="1463.6" width="70.8" height="15"/>
<rect x="230" y="1485.6" width="70.8" height="15"/>
<rect x="230" y="1507.7" width="70.8" height="15"/>
<rect x="230" y="1529.7" width="70.8" height="15"/>
<rect x="230" y="1551.8" width="70.8" height="15"/>
<rect x="230" y="1573.8" width="70.8" height="15"/>
<rect x="230" y="1595.9" width="70.8" height="15"/>
<rect x="230" y="1617.9" width="70.8" height="15"/>
<rect x="230" y="1640" width="70.8" height="15"/>
<rect x="230" y="1662" width="70.8" height="15"/>
<rect x="230" y="1684.1" width="70.8" height="15"/>
<rect x="230" y="1706.1" width="70.8" height="15"/>
<rect x="230" y="1728.2" width="70.8" height="15"/>
<rect x="230" y="1750.2" width="88.5" height="15"/>
<rect x="230" y="1772.3" width="88.5" height="15"/>
<rect x="230" y="1794.3" width="88.5" height="15"/>
<rect x="230" y="1816.4" width="88.5" height="15"/>
<rect x="230" y="1838.4" width="88.5" height="15"/>
<rect x="230" y="1860.5" width="88.5" height="15"/>
<rect x="230" y="1882.5" width="88.5" height="15"/>
<rect x="230" y="1904.6" width="88.5" height="15"/>
<rect x="230" y="1926.6" width="88.5" height="15"/>
<rect x="230" y="1948.7" width="88.5" height="15"/>
<rect x="230" y="1970.7" width="88.5" height="15"/>
<rect x="230" y="1992.8" width="88.5" height="15"/>
<rect x="230" y="2014.8" width="88.5" height="15"/>
<rect x="230" y="2036.9" width="88.5" height="15"/>
<rect x="230" y="2058.9" width="88.5" height="15"/>
<rect x="230" y="2081" width="106.2" height="15"/>
<rect x="230" y="2103" width="106.2" height="15"/>
<rect x="230" y="2125.1" width="106.2" height="15"/>
<rect x="230" y="2147.1" width="106.2" height="15"/>
<rect x="230" y="2169.2" width="123.9" height="15"/>
<rect x="230" y="2191.2" width="123.9" height="15"/>
<rect x="230" y="2213.3" width="123.9" height="15"/>
<rect x="230" y="2235.3" width="177" height="15"/>
<rect x="230" y="2257.4" width="212.4" height="15"/>
<rect x="230" y="2279.4" width="230.1" height="15"/>
<rect x="230" y="2301.5" width="247.8" height="15"/>
</g>
<g class="tk">
<line x1="217" y1="1449" x2="229" y2="1449"/><line x1="217" y1="1471.1" x2="229" y2="1471.1"/><line x1="217" y1="1493.1" x2="229" y2="1493.1"/><line x1="217" y1="1515.2" x2="229" y2="1515.2"/><line x1="217" y1="1537.2" x2="229" y2="1537.2"/><line x1="217" y1="1559.3" x2="229" y2="1559.3"/><line x1="217" y1="1581.3" x2="229" y2="1581.3"/><line x1="217" y1="1603.4" x2="229" y2="1603.4"/><line x1="217" y1="1625.4" x2="229" y2="1625.4"/><line x1="217" y1="1647.5" x2="229" y2="1647.5"/>
<line x1="217" y1="1669.5" x2="229" y2="1669.5"/><line x1="217" y1="1691.6" x2="229" y2="1691.6"/><line x1="217" y1="1713.6" x2="229" y2="1713.6"/><line x1="217" y1="1735.7" x2="229" y2="1735.7"/><line x1="217" y1="1757.7" x2="229" y2="1757.7"/><line x1="217" y1="1779.8" x2="229" y2="1779.8"/><line x1="217" y1="1801.8" x2="229" y2="1801.8"/><line x1="217" y1="1823.9" x2="229" y2="1823.9"/><line x1="217" y1="1845.9" x2="229" y2="1845.9"/><line x1="217" y1="1868" x2="229" y2="1868"/>
<line x1="217" y1="1890" x2="229" y2="1890"/><line x1="217" y1="1912.1" x2="229" y2="1912.1"/><line x1="217" y1="1934.1" x2="229" y2="1934.1"/><line x1="217" y1="1956.2" x2="229" y2="1956.2"/><line x1="217" y1="1978.2" x2="229" y2="1978.2"/><line x1="217" y1="2000.3" x2="229" y2="2000.3"/><line x1="217" y1="2022.3" x2="229" y2="2022.3"/><line x1="217" y1="2044.4" x2="229" y2="2044.4"/><line x1="217" y1="2066.4" x2="229" y2="2066.4"/><line x1="217" y1="2088.5" x2="229" y2="2088.5"/>
<line x1="217" y1="2110.5" x2="229" y2="2110.5"/><line x1="217" y1="2132.6" x2="229" y2="2132.6"/><line x1="217" y1="2154.6" x2="229" y2="2154.6"/><line x1="217" y1="2176.7" x2="229" y2="2176.7"/><line x1="217" y1="2198.7" x2="229" y2="2198.7"/><line x1="217" y1="2220.8" x2="229" y2="2220.8"/><line x1="217" y1="2242.8" x2="229" y2="2242.8"/><line x1="217" y1="2264.9" x2="229" y2="2264.9"/><line x1="217" y1="2286.9" x2="229" y2="2286.9"/><line x1="217" y1="2309" x2="229" y2="2309"/>
<line x1="229" y1="2324" x2="229" y2="2333"/><line x1="317.5" y1="2324" x2="317.5" y2="2333"/><line x1="406" y1="2324" x2="406" y2="2333"/><line x1="494.5" y1="2324" x2="494.5" y2="2333"/>
</g>
<path class="ax" d="M229,1436 V2324 H496"/>
<g class="bl">
<text x="216" y="1456">ANPEP</text>
<text x="216" y="1478.1">CD68</text>
<text x="216" y="1500.1">CHD7</text>
<text x="216" y="1522.2">COG7</text>
<text x="216" y="1544.2">COL9A2</text>
<text x="216" y="1566.3">CRP</text>
<text x="216" y="1588.3">FCGR2B</text>
<text x="216" y="1610.4">GCNT4</text>
<text x="216" y="1632.4">HSD17B12</text>
<text x="216" y="1654.5">KAL1</text>
<text x="216" y="1676.5">LDB2</text>
<text x="216" y="1698.6">LYPD1</text>
<text x="216" y="1720.6">RET</text>
<text x="216" y="1742.7">SH3GL2</text>
<text x="216" y="1764.7">APLN</text>
<text x="216" y="1786.8">ASPM</text>
<text x="216" y="1808.8">CCNF</text>
<text x="216" y="1830.9">FGFR2</text>
<text x="216" y="1852.9">GPR37L1</text>
<text x="216" y="1875">ITGA4</text>
<text x="216" y="1897">JAK3</text>
<text x="216" y="1919.1">MAVS</text>
<text x="216" y="1941.1">MCM2</text>
<text x="216" y="1963.2">PIK3CD</text>
<text x="216" y="1985.2">PTGDR2</text>
<text x="216" y="2007.3">SDC1</text>
<text x="216" y="2029.3">STAT4</text>
<text x="216" y="2051.4">TM7SF2</text>
<text x="216" y="2073.4">UBA7</text>
<text x="216" y="2095.5">CENPE</text>
<text x="216" y="2117.5">DHX58</text>
<text x="216" y="2139.6">GNAI1</text>
<text x="216" y="2161.6">ZBP1</text>
<text x="216" y="2183.7">CD3G</text>
<text x="216" y="2205.7">SELL</text>
<text x="216" y="2227.8">SH3GL3</text>
<text x="216" y="2249.8">MX1</text>
<text x="216" y="2271.9">IRF7</text>
<text x="216" y="2293.9">CCL5</text>
<text x="216" y="2316">CXCL10</text>
</g>
<g font-family="Liberation Sans, Arial, sans-serif" font-weight="bold" font-size="20" text-anchor="middle" fill="#111">
<text x="229" y="2356">0</text>
<text x="317.5" y="2356">5</text>
<text x="406" y="2356">10</text>
<text x="494.5" y="2356">15</text>
<text x="362" y="2394" font-size="24" letter-spacing="1">Degree</text>
</g>
</g>

<g id="panelC">
<text x="1381" y="1470" font-family="Liberation Sans, Arial, sans-serif" font-weight="bold" font-size="30" text-anchor="middle" fill="#111" textLength="453" lengthAdjust="spacingAndGlyphs">Top 30 of Pathway Enrichment</text>
<rect x="1153.7" y="1486" width="328" height="835" fill="#ebebeb"/>
<g stroke="#fff" stroke-width="1">
<line x1="1211.2" y1="1486" x2="1211.2" y2="2321"/>
<line x1="1304.2" y1="1486" x2="1304.2" y2="2321"/>
<line x1="1397.2" y1="1486" x2="1397.2" y2="2321"/>
</g>
<g stroke="#fff" stroke-width="2.2">
<line x1="1164.7" y1="1486" x2="1164.7" y2="2321"/>
<line x1="1257.7" y1="1486" x2="1257.7" y2="2321"/>
<line x1="1350.7" y1="1486" x2="1350.7" y2="2321"/>
<line x1="1443.7" y1="1486" x2="1443.7" y2="2321"/>
<line x1="1153.7" y1="1502" x2="1481.7" y2="1502"/>
<line x1="1153.7" y1="1529.6" x2="1481.7" y2="1529.6"/>
<line x1="1153.7" y1="1557.3" x2="1481.7" y2="1557.3"/>
<line x1="1153.7" y1="1584.9" x2="1481.7" y2="1584.9"/>
<line x1="1153.7" y1="1612.6" x2="1481.7" y2="1612.6"/>
<line x1="1153.7" y1="1640.2" x2="1481.7" y2="1640.2"/>
<line x1="1153.7" y1="1667.8" x2="1481.7" y2="1667.8"/>
<line x1="1153.7" y1="1695.5" x2="1481.7" y2="1695.5"/>
<line x1="1153.7" y1="1723.1" x2="1481.7" y2="1723.1"/>
<line x1="1153.7" y1="1750.8" x2="1481.7" y2="1750.8"/>
<line x1="1153.7" y1="1778.4" x2="1481.7" y2="1778.4"/>
<line x1="1153.7" y1="1806" x2="1481.7" y2="1806"/>
<line x1="1153.7" y1="1833.7" x2="1481.7" y2="1833.7"/>
<line x1="1153.7" y1="1861.3" x2="1481.7" y2="1861.3"/>
<line x1="1153.7" y1="1889" x2="1481.7" y2="1889"/>
<line x1="1153.7" y1="1916.6" x2="1481.7" y2="1916.6"/>
<line x1="1153.7" y1="1944.2" x2="1481.7" y2="1944.2"/>
<line x1="1153.7" y1="1971.9" x2="1481.7" y2="1971.9"/>
<line x1="1153.7" y1="1999.5" x2="1481.7" y2="1999.5"/>
<line x1="1153.7" y1="2027.2" x2="1481.7" y2="2027.2"/>
<line x1="1153.7" y1="2054.8" x2="1481.7" y2="2054.8"/>
<line x1="1153.7" y1="2082.4" x2="1481.7" y2="2082.4"/>
<line x1="1153.7" y1="2110.1" x2="1481.7" y2="2110.1"/>
<line x1="1153.7" y1="2137.7" x2="1481.7" y2="2137.7"/>
<line x1="1153.7" y1="2165.4" x2="1481.7" y2="2165.4"/>
<line x1="1153.7" y1="2193" x2="1481.7" y2="2193"/>
<line x1="1153.7" y1="2220.6" x2="1481.7" y2="2220.6"/>
<line x1="1153.7" y1="2248.3" x2="1481.7" y2="2248.3"/>
<line x1="1153.7" y1="2275.9" x2="1481.7" y2="2275.9"/>
<line x1="1153.7" y1="2303.6" x2="1481.7" y2="2303.6"/>
</g>
<g stroke="#333" stroke-width="1.5">
<line x1="1148" y1="1502" x2="1153.7" y2="1502"/><line x1="1148" y1="1529.6" x2="1153.7" y2="1529.6"/><line x1="1148" y1="1557.3" x2="1153.7" y2="1557.3"/><line x1="1148" y1="1584.9" x2="1153.7" y2="1584.9"/><line x1="1148" y1="1612.6" x2="1153.7" y2="1612.6"/><line x1="1148" y1="1640.2" x2="1153.7" y2="1640.2"/><line x1="1148" y1="1667.8" x2="1153.7" y2="1667.8"/><line x1="1148" y1="1695.5" x2="1153.7" y2="1695.5"/><line x1="1148" y1="1723.1" x2="1153.7" y2="1723.1"/><line x1="1148" y1="1750.8" x2="1153.7" y2="1750.8"/>
<line x1="1148" y1="1778.4" x2="1153.7" y2="1778.4"/><line x1="1148" y1="1806" x2="1153.7" y2="1806"/><line x1="1148" y1="1833.7" x2="1153.7" y2="1833.7"/><line x1="1148" y1="1861.3" x2="1153.7" y2="1861.3"/><line x1="1148" y1="1889" x2="1153.7" y2="1889"/><line x1="1148" y1="1916.6" x2="1153.7" y2="1916.6"/><line x1="1148" y1="1944.2" x2="1153.7" y2="1944.2"/><line x1="1148" y1="1971.9" x2="1153.7" y2="1971.9"/><line x1="1148" y1="1999.5" x2="1153.7" y2="1999.5"/><line x1="1148" y1="2027.2" x2="1153.7" y2="2027.2"/>
<line x1="1148" y1="2054.8" x2="1153.7" y2="2054.8"/><line x1="1148" y1="2082.4" x2="1153.7" y2="2082.4"/><line x1="1148" y1="2110.1" x2="1153.7" y2="2110.1"/><line x1="1148" y1="2137.7" x2="1153.7" y2="2137.7"/><line x1="1148" y1="2165.4" x2="1153.7" y2="2165.4"/><line x1="1148" y1="2193" x2="1153.7" y2="2193"/><line x1="1148" y1="2220.6" x2="1153.7" y2="2220.6"/><line x1="1148" y1="2248.3" x2="1153.7" y2="2248.3"/><line x1="1148" y1="2275.9" x2="1153.7" y2="2275.9"/><line x1="1148" y1="2303.6" x2="1153.7" y2="2303.6"/>
<line x1="1164.7" y1="2321" x2="1164.7" y2="2326"/><line x1="1257.7" y1="2321" x2="1257.7" y2="2326"/><line x1="1350.7" y1="2321" x2="1350.7" y2="2326"/><line x1="1443.7" y1="2321" x2="1443.7" y2="2326"/>
</g>
<g id="dots">
<circle class="red" cx="1466.8" cy="1502" r="11"/>
<circle class="red" cx="1376.3" cy="1529.6" r="9.7"/>
<circle class="red" cx="1344.5" cy="1557.3" r="12"/>
<circle class="red" cx="1333" cy="1584.9" r="8.5"/>
<circle class="blu" cx="1333" cy="1612.6" r="3.2"/>
<circle class="blu" cx="1318" cy="1640.2" r="3.2"/>
<circle class="blu" cx="1291.9" cy="1667.8" r="3.2"/>
<circle class="red" cx="1281" cy="1695.5" r="8.5"/>
<circle class="red" cx="1250.9" cy="1723.1" r="11"/>
<circle class="blu" cx="1246" cy="1750.8" r="3.2"/>
<circle class="red" cx="1232.9" cy="1778.4" r="8.5"/>
<circle class="red" cx="1232.9" cy="1806" r="8.5"/>
<circle class="blu" cx="1232.9" cy="1833.7" r="3.2"/>
<circle class="blu" cx="1226.5" cy="1861.3" r="3.2"/>
<circle class="blu" cx="1211.3" cy="1889" r="3.2"/>
<circle class="red" cx="1206.7" cy="1916.6" r="9.5"/>
<circle class="red" cx="1201" cy="1944.2" r="8.5"/>
<circle class="blu" cx="1198.6" cy="1971.9" r="3.2"/>
<circle class="blu" cx="1198.6" cy="1999.5" r="3.2"/>
<circle class="blu" cx="1191" cy="2027.2" r="3.2"/>
<circle class="blu" cx="1191" cy="2054.8" r="3.2"/>
<circle class="red" cx="1189" cy="2082.4" r="8.5"/>
<circle class="blu" cx="1188" cy="2110.1" r="3.2"/>
<circle class="blu" cx="1184.8" cy="2137.7" r="3.2"/>
<circle class="red" cx="1182" cy="2165.4" r="7"/>
<circle class="blu" cx="1173.9" cy="2193" r="3.2"/>
<circle class="blu" cx="1171" cy="2220.6" r="3.2"/>
<circle class="red" cx="1169" cy="2248.3" r="7"/>
<circle class="blu" cx="1169" cy="2275.9" r="3.2"/>
<circle class="blu" cx="1169" cy="2303.6" r="3.2"/>
</g>
<g class="cl">
<text x="1145" y="1509.5" textLength="332" lengthAdjust="spacingAndGlyphs">Cytosolic DNA−sensing pathway</text>
<text x="1145" y="1537.1" textLength="386" lengthAdjust="spacingAndGlyphs">RIG−I−like receptor signaling pathway</text>
<text x="1145" y="1564.8" textLength="82" lengthAdjust="spacingAndGlyphs">Measles</text>
<text x="1145" y="1592.4" textLength="260" lengthAdjust="spacingAndGlyphs">ECM−receptor interaction</text>
<text x="1145" y="1620.1" textLength="151" lengthAdjust="spacingAndGlyphs">Thyroid cancer</text>
<text x="1145" y="1647.7" textLength="271" lengthAdjust="spacingAndGlyphs">Renin−angiotensin system</text>
<text x="1145" y="1675.3" textLength="209" lengthAdjust="spacingAndGlyphs">Steroid biosynthesis</text>
<text x="1145" y="1703" textLength="268" lengthAdjust="spacingAndGlyphs">Hematopoietic cell lineage</text>
<text x="1145" y="1730.6" textLength="112" lengthAdjust="spacingAndGlyphs">Influenza A</text>
<text x="1145" y="1758.3" textLength="354" lengthAdjust="spacingAndGlyphs">Mucin type O−Glycan biosynthesis</text>
<text x="1145" y="1785.9" textLength="366" lengthAdjust="spacingAndGlyphs">Toll−like receptor signaling pathway</text>
<text x="1145" y="1813.5" textLength="502" lengthAdjust="spacingAndGlyphs">Chagas disease (American trypanosomiasis etc...</text>
<text x="1145" y="1841.2" textLength="150" lengthAdjust="spacingAndGlyphs">Prion diseases</text>
<text x="1145" y="1868.8" textLength="159" lengthAdjust="spacingAndGlyphs">DNA replication</text>
<text x="1145" y="1896.5" textLength="183" lengthAdjust="spacingAndGlyphs">Cocaine addiction</text>
<text x="1145" y="1924.1" textLength="305" lengthAdjust="spacingAndGlyphs">Chemokine signaling pathway</text>
<text x="1145" y="1951.7" textLength="330" lengthAdjust="spacingAndGlyphs">Cell adhesion molecules (CAMs)</text>
<text x="1145" y="1979.4" textLength="243" lengthAdjust="spacingAndGlyphs">Glutathione metabolism</text>
<text x="1145" y="2007" textLength="230" lengthAdjust="spacingAndGlyphs">Long−term depression</text>
<text x="1145" y="2034.7" textLength="476" lengthAdjust="spacingAndGlyphs">Intestinal immune network for IgA produc etc...</text>
<text x="1145" y="2062.3" textLength="378" lengthAdjust="spacingAndGlyphs">NOD−like receptor signaling pathway</text>
<text x="1145" y="2089.9" textLength="111" lengthAdjust="spacingAndGlyphs">Hepatitis B</text>
<text x="1145" y="2117.6" textLength="334" lengthAdjust="spacingAndGlyphs">Staphylococcus aureus infection</text>
<text x="1145" y="2145.2" textLength="370" lengthAdjust="spacingAndGlyphs">Regulation of lipolysis in adipocytes</text>
<text x="1145" y="2172.9" textLength="231" lengthAdjust="spacingAndGlyphs">TNF signaling pathway</text>
<text x="1145" y="2200.5" textLength="159" lengthAdjust="spacingAndGlyphs">Renin secretion</text>
<text x="1145" y="2228.1" textLength="375" lengthAdjust="spacingAndGlyphs">Central carbon metabolism in cancer</text>
<text x="1145" y="2255.8" textLength="379" lengthAdjust="spacingAndGlyphs">Leukocyte transendothelial migration</text>
<text x="1145" y="2283.4" textLength="339" lengthAdjust="spacingAndGlyphs">B cell receptor signaling pathway</text>
<text x="1145" y="2311.1" textLength="73" lengthAdjust="spacingAndGlyphs">Malaria</text>
</g>
<g font-family="Liberation Sans, Arial, sans-serif" font-weight="bold" font-size="19" text-anchor="middle" fill="#222">
<text x="1164.7" y="2344">5</text>
<text x="1257.7" y="2344">10</text>
<text x="1350.7" y="2344">15</text>
<text x="1443.7" y="2344">20</text>
<text x="1317" y="2371" font-size="24" fill="#111">Rich Factor</text>
</g>
<g id="legend">
<text class="ct" x="1510" y="1710">P_value</text>
<rect x="1509" y="1724" width="29" height="145" fill="url(#pg)"/>
<g stroke="#fff" stroke-width="1.5">
<line x1="1509" y1="1724" x2="1514" y2="1724"/><line x1="1533" y1="1724" x2="1538" y2="1724"/>
<line x1="1509" y1="1760" x2="1514" y2="1760"/><line x1="1533" y1="1760" x2="1538" y2="1760"/>
<line x1="1509" y1="1797" x2="1514" y2="1797"/><line x1="1533" y1="1797" x2="1538" y2="1797"/>
<line x1="1509" y1="1833" x2="1514" y2="1833"/><line x1="1533" y1="1833" x2="1538" y2="1833"/>
</g>
<text class="cn" x="1548" y="1731">1.00</text>
<text class="cn" x="1548" y="1766">0.75</text>
<text class="cn" x="1548" y="1804">0.50</text>
<text class="cn" x="1548" y="1840">0.25</text>
<text class="ct" x="1510" y="1925">Gene_number</text>
<rect x="1509" y="1940" width="29" height="174" fill="#f2f2f2"/>
<circle cx="1523.5" cy="1953.6" r="2.5" fill="#000"/>
<circle cx="1523.5" cy="1983" r="6.2" fill="#000"/>
<circle cx="1523.5" cy="2011.7" r="7.8" fill="#000"/>
<circle cx="1523.5" cy="2041.8" r="9" fill="#000"/>
<circle cx="1523.5" cy="2070.5" r="10.8" fill="#000"/>
<circle cx="1523.5" cy="2100.5" r="12" fill="#000"/>
<text class="cn" x="1549" y="1960">1</text>
<text class="cn" x="1549" y="1990">2</text>
<text class="cn" x="1549" y="2018">3</text>
<text class="cn" x="1549" y="2048">4</text>
<text class="cn" x="1549" y="2077">5</text>
<text class="cn" x="1549" y="2107">6</text>
</g>
</g>
</svg>
